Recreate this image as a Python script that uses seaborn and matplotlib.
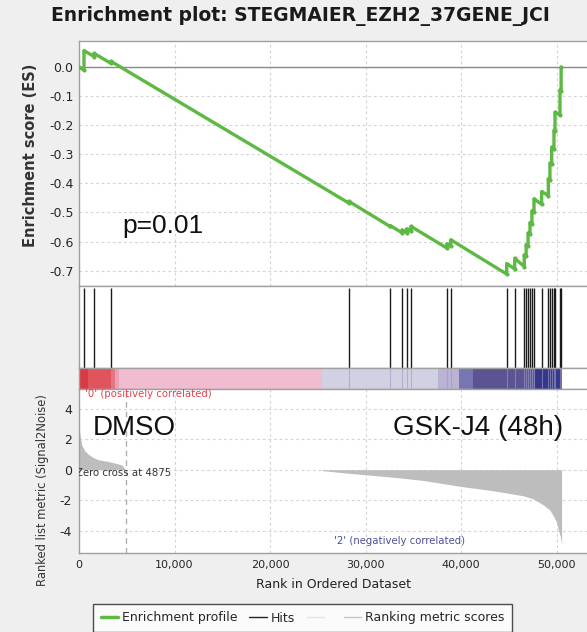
#!/usr/bin/env python3
"""GSEA enrichment plot for the STEGMAIER_EZH2_37GENE_JCI gene set."""

import matplotlib
matplotlib.use("Agg")
import matplotlib.pyplot as plt
from matplotlib.lines import Line2D
import pandas as pd
import seaborn as sns

# Running enrichment score, vertices (rank, ES)
es_rank = [0, 520, 524, 1600, 1600, 3350, 3350, 28270, 28270,
           32560, 32560, 33850, 33850, 34310, 34310, 34760, 34760,
           38500, 38500, 38920, 38920, 44780, 44780, 45620, 45620,
           46620, 46620, 46820, 46820, 47020, 47020, 47220, 47220,
           47420, 47420, 47640, 47640, 48440, 48440, 49140, 49140,
           49310, 49310, 49490, 49490, 49730, 49730, 49840, 49840,
           50360, 50360, 50480, 50480]
es_value = [0.000, -0.010, 0.057, 0.036, 0.047, 0.013, 0.020, -0.468, -0.462,
            -0.548, -0.545, -0.570, -0.560, -0.569, -0.556, -0.565, -0.548,
            -0.622, -0.608, -0.616, -0.594, -0.712, -0.676, -0.694, -0.658,
            -0.686, -0.646, -0.650, -0.611, -0.615, -0.571, -0.575, -0.535,
            -0.539, -0.495, -0.499, -0.453, -0.472, -0.428, -0.442, -0.385,
            -0.388, -0.330, -0.334, -0.275, -0.280, -0.218, -0.220, -0.155,
            -0.165, -0.079, -0.082, 0.000]

# Gene set members in the ranked list
hit_ranks = [524, 1600, 3350, 28270, 32560, 33850, 34310, 34760, 38500,
             38920, 44780, 45620, 46620, 46820, 47020, 47220, 47420, 47640,
             48440, 49140, 49310, 49490, 49730, 49840, 50360, 50480]

# Ranked list metric (Signal2Noise)
metric_rank = [0, 100, 300, 600, 1000, 1500, 2000, 3000, 4000, 4500, 4875,
               25400, 25500, 28000, 30000, 33000, 36000, 40000, 43000,
               45000, 46500, 47500, 48600, 49300, 49700, 50000, 50200,
               50400, 50530]
metric_value = [2.95, 2.3, 1.6, 1.25, 1.0, 0.8, 0.66, 0.55, 0.4, 0.3, 0.0,
                0.0, -0.06, -0.22, -0.33, -0.5, -0.7, -1.1, -1.35, -1.55,
                -1.71, -1.9, -2.3, -2.65, -3.07, -3.45, -3.95, -4.4, -4.93]

# Colour bar under the hits: segment starts, ends and colours
bar_start = [0, 900, 3400, 3800, 4200, 25440, 37620, 39790, 41290, 47740]
bar_end = [900, 3400, 3800, 4200, 25440, 37620, 39790, 41290, 47740, 50530]
bar_color = ["#da3a44", "#e0545e", "#e67584", "#eca0b6", "#f1bccf",
             "#d2d1e3", "#bbb3d4", "#7677b0", "#5a5592", "#35378a"]

x_ticks = [0, 10000, 20000, 30000, 40000, 50000]
x_labels = ["0", "10,000", "20,000", "30,000", "40,000", "50,000"]
es_ticks = [0.0, -0.1, -0.2, -0.3, -0.4, -0.5, -0.6, -0.7]
metric_ticks = [4, 2, 0, -2, -4]

ZERO_CROSS = 4875
XMAX = 53190
GREEN = "#5db944"
GRID = dict(color="#d4d4d4", linestyle=(0, (2.5, 2.5)), linewidth=0.8)

sns.set_theme(style="white")
plt.rcParams["font.family"] = ["DejaVu Sans"]
plt.rcParams["axes.unicode_minus"] = False


def style_axes(ax):
    ax.set_xlim(0, XMAX)
    for side, spine in ax.spines.items():
        spine.set_color("#a0a0a0")
        spine.set_linewidth(1)
    ax.spines["right"].set_visible(False)
    ax.tick_params(length=0)


def main():
    fig = plt.figure(figsize=(5.87, 6.32), dpi=100, facecolor="#efefef")
    W, H = 587, 632

    def add(top, bottom):
        return fig.add_axes([79 / W, 1 - bottom / H, 1 - 79 / W,
                             (bottom - top) / H])

    ax_es = add(41, 286)
    ax_hits = add(286, 367.5)
    ax_bar = add(367.5, 389)
    ax_rank = add(389, 553)

    # Enrichment profile
    style_axes(ax_es)
    es = pd.DataFrame({"rank": es_rank, "es": es_value})
    ax_es.set_ylim(-0.753, 0.09)
    ax_es.set_yticks(es_ticks)
    ax_es.set_yticklabels([f"{t:.1f}" for t in es_ticks], fontsize=9)
    ax_es.set_xticks(x_ticks)
    ax_es.set_xticklabels([])
    ax_es.grid(True, **GRID)
    ax_es.axhline(0, color="#8a8a8a", lw=1, zorder=1)
    sns.lineplot(data=es, x="rank", y="es", ax=ax_es, estimator=None,
                 sort=False, color=GREEN, lw=2.4, marker="o", markersize=3,
                 markeredgewidth=0, zorder=3)
    ax_es.set(xlabel="", ylabel="")
    ax_es.tick_params(axis="y", length=2, color="#a0a0a0", pad=2)
    ax_es.text(4500, -0.545, "p=0.01", fontsize=19, family="Liberation Sans",
               color="#111111", va="center")

    # Hits
    style_axes(ax_hits)
    ax_hits.set_ylim(0, 1)
    ax_hits.set_xticks([])
    ax_hits.set_yticks([])
    ax_hits.vlines(hit_ranks, 0, 0.975, color="#1a1a1a", lw=1)

    # Colour bar
    style_axes(ax_bar)
    ax_bar.set_xticks([])
    ax_bar.set_yticks([])
    for s, e, c in zip(bar_start, bar_end, bar_color):
        ax_bar.axvspan(s, e, color=c, lw=0)
    ax_bar.vlines(hit_ranks[3:], 0, 1, color="#9c98c4", lw=0.8, alpha=0.6)

    # Ranked list metric
    style_axes(ax_rank)
    ax_rank.set_ylim(-5.47, 5.3)
    ax_rank.set_xticks(x_ticks)
    ax_rank.set_xticklabels(x_labels, fontsize=8)
    ax_rank.set_yticks(metric_ticks)
    ax_rank.set_yticklabels([str(t) for t in metric_ticks], fontsize=9)
    ax_rank.grid(True, **GRID)
    ax_rank.fill_between(metric_rank, 0, metric_value, color="#bdbdbd",
                         lw=0, zorder=2)
    ax_rank.axvline(ZERO_CROSS, color="#b0b0b0", lw=1,
                    linestyle=(0, (4, 3)), zorder=1)
    ax_rank.tick_params(length=3, color="#a0a0a0", pad=2)
    ax_rank.text(600, 4.95, "'0' (positively correlated)", color="#e0434c",
                 fontsize=7.3, va="center")
    ax_rank.text(-350, -0.2, "Zero cross at 4875", color="#333333",
                 fontsize=7.3, va="center", clip_on=True)
    ax_rank.text(26700, -4.65, "'2' (negatively correlated)",
                 color="#4b509c", fontsize=7.3, va="center")
    ax_rank.text(1450, 2.75, "DMSO", fontsize=20, family="Liberation Sans",
                 color="#111111", va="center")
    ax_rank.text(50680, 2.75, "GSK-J4 (48h)", fontsize=20, ha="right",
                 family="Liberation Sans", color="#111111", va="center")

    # Titles and labels
    fig.text(0.512, 1 - 16 / H, "Enrichment plot: STEGMAIER_EZH2_37GENE_JCI",
             fontsize=13.5, fontweight="bold", ha="center", va="center",
             color="#1a1a1a")
    fig.text(31 / W, 1 - 155 / H, "Enrichment score (ES)", rotation=90,
             fontsize=10.5, fontweight="bold", ha="center", va="center",
             color="#333333")
    fig.text(43 / W, 1 - 490 / H, "Ranked list metric (Signal2Noise)",
             rotation=90, fontsize=8.3, ha="center", va="center",
             color="#333333")
    fig.text(333 / W, 1 - 585 / H, "Rank in Ordered Dataset", fontsize=9,
             ha="center", va="center", color="#222222")

    # Legend
    handles = [Line2D([], [], color=GREEN, lw=2.5),
               Line2D([], [], color="#222222", lw=1),
               Line2D([], [], color="#e4e4e4", lw=1),
               Line2D([], [], color="#c8c8c8", lw=1)]
    labels = ["Enrichment profile", "Hits", " ", "Ranking metric scores"]
    leg = fig.legend(handles, labels, loc="upper left", ncol=4,
                     bbox_to_anchor=(93 / W, 1 - 604 / H), fontsize=9,
                     frameon=True, fancybox=False, handlelength=1.4,
                     handletextpad=0.3, columnspacing=0.95,
                     borderpad=0.6, borderaxespad=0)
    leg.get_frame().set_edgecolor("#222222")
    leg.get_frame().set_linewidth(1)

    fig.savefig("out.png", dpi=100, facecolor=fig.get_facecolor())
    plt.close(fig)


if __name__ == "__main__":
    main()
